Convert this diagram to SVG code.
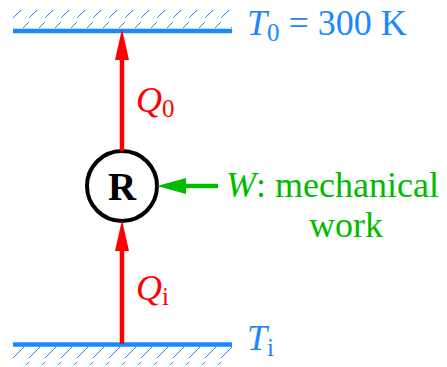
<svg xmlns="http://www.w3.org/2000/svg" width="447" height="367" viewBox="0 0 447 367">
<defs>
<style>
.wall{stroke:#1a88ff;stroke-width:4.5}
.hatch{stroke:#1a88ff;stroke-width:1}
.heat{stroke:#ff0000;stroke-width:4.5;fill:none}
.lab{font-family:"Liberation Serif",serif;font-size:36px}
.it{font-style:italic}
</style>
<pattern id="h" x="13" y="0" width="16" height="20" patternUnits="userSpaceOnUse">
<line x1="-2" y1="20" x2="18" y2="0" class="hatch"/>
</pattern>
</defs>
<g id="top-reservoir">
<rect x="13" y="10" width="219" height="18" fill="url(#h)"/>
<line x1="13" y1="31" x2="232" y2="31" class="wall"/>
<text x="247" y="35" class="lab" fill="#1a88ff"><tspan class="it">T</tspan><tspan dy="6" font-size="25">0</tspan><tspan dy="-6"> = 300 K</tspan></text>
</g>
<g id="bottom-reservoir">
<rect x="13" y="347" width="219" height="18" fill="url(#h)"/>
<line x1="13" y1="344.5" x2="232" y2="344.5" class="wall"/>
<text x="247" y="350" class="lab" fill="#1a88ff"><tspan class="it">T</tspan><tspan dy="6" font-size="25">i</tspan></text>
</g>
<g id="R">
<circle cx="122" cy="186" r="35" fill="#fff" stroke="#000" stroke-width="4"/>
<text x="122" y="200" text-anchor="middle" font-family="Liberation Serif,serif" font-weight="bold" font-size="39">R</text>
</g>
<g id="connectors">
<line x1="122" y1="151" x2="122" y2="58" class="heat"/>
<polygon points="122,29 115,60 129,60" fill="#ff0000"/>
<line x1="122" y1="344" x2="122" y2="248" class="heat"/>
<polygon points="122,220 115,251 129,251" fill="#ff0000"/>
<line x1="218" y1="186" x2="183" y2="186" stroke="#00bb00" stroke-width="4.5"/>
<polygon points="157,186 186,178 186,194" fill="#00bb00"/>
</g>
<g id="labels">
<text x="136" y="112" class="lab" fill="#ff0000"><tspan class="it">Q</tspan><tspan dy="5" font-size="25">0</tspan></text>
<text x="136" y="300" class="lab" fill="#ff0000"><tspan class="it">Q</tspan><tspan dy="5" font-size="25">i</tspan></text>
<text x="226" y="197" class="lab" fill="#00bb00"><tspan class="it">W</tspan>: mechanical</text>
<text x="346" y="237" class="lab" fill="#00bb00" text-anchor="middle">work</text>
</g>
</svg>
